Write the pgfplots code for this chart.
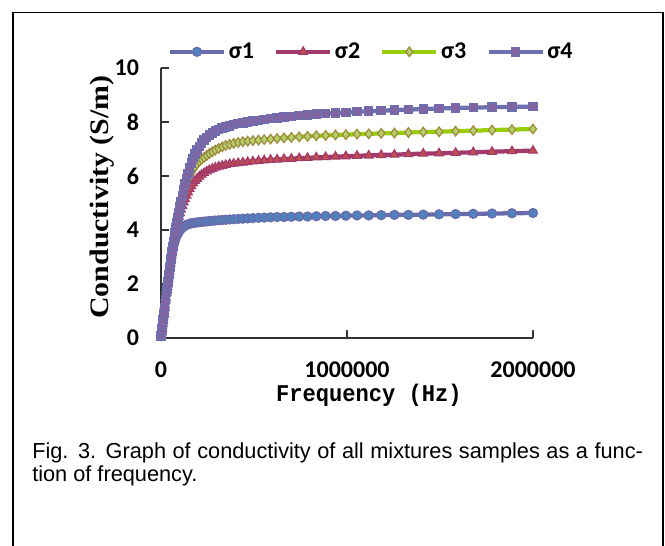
\documentclass[border=0pt]{standalone}
\usepackage{pgfplots}
\pgfplotsset{compat=1.18}
\usepackage{pgfplotstable}
\usepackage{fontspec}
\setmainfont{Liberation Sans}
\newfontfamily\calfont{Carlito}
\newfontfamily\serfont{Liberation Serif}[FakeStretch=1.12]
\newfontfamily\xlabfont{Liberation Mono}[FakeStretch=0.92]

\definecolor{lineA}{HTML}{6A6BAA}
\definecolor{markA}{HTML}{4F81BD}
\definecolor{lineB}{HTML}{A23A6B}
\definecolor{markB}{HTML}{C0504D}
\definecolor{lineC}{HTML}{9ACD0A}
\definecolor{markC}{HTML}{9C8A3E}
\definecolor{fillC}{HTML}{B5CF6A}
\definecolor{lineD}{HTML}{6E6FAE}
\definecolor{markD}{HTML}{8064A2}

% frequency (Hz) and conductivity (S/m) of the four mixtures
\pgfplotstableread{
f       s1   s2   s3   s4
1000    0.08 0.08 0.08 0.08
2000    0.13 0.13 0.13 0.13
4000    0.24 0.24 0.24 0.24
6000    0.35 0.35 0.35 0.35
9000    0.52 0.52 0.52 0.52
12000   0.68 0.68 0.68 0.68
16000   0.90 0.90 0.90 0.90
20000   1.12 1.12 1.12 1.12
25000   1.40 1.40 1.40 1.40
30000   1.68 1.68 1.68 1.68
32000   1.79 1.79 1.79 1.79
34000   1.90 1.90 1.90 1.90
36000   2.00 2.00 2.00 2.00
38000   2.10 2.10 2.10 2.10
40000   2.20 2.20 2.20 2.20
43000   2.36 2.36 2.36 2.36
45000   2.46 2.46 2.46 2.46
48000   2.62 2.62 2.62 2.62
51000   2.77 2.77 2.77 2.77
54000   2.92 2.92 2.92 2.92
57000   3.06 3.06 3.06 3.06
60000   3.20 3.20 3.20 3.20
64000   3.33 3.38 3.38 3.38
68000   3.45 3.56 3.56 3.56
72000   3.55 3.73 3.73 3.73
76000   3.64 3.90 3.90 3.90
81000   3.73 4.10 4.10 4.10
86000   3.81 4.25 4.28 4.28
91000   3.88 4.38 4.46 4.46
96000   3.94 4.50 4.64 4.64
102000  4.00 4.63 4.85 4.85
108000  4.05 4.76 5.05 5.05
115000  4.09 4.90 5.27 5.28
122000  4.13 5.03 5.40 5.50
129000  4.16 5.15 5.55 5.70
137000  4.19 5.28 5.72 5.90
145000  4.21 5.40 5.87 6.10
154000  4.23 5.52 6.00 6.30
163000  4.25 5.63 6.12 6.48
173000  4.26 5.73 6.24 6.65
183000  4.27 5.82 6.35 6.82
194000  4.28 5.90 6.45 6.96
206000  4.29 5.98 6.54 7.10
219000  4.30 6.05 6.62 7.22
232000  4.31 6.11 6.69 7.33
246000  4.32 6.17 6.76 7.43
260000  4.33 6.22 6.83 7.51
276000  4.34 6.27 6.90 7.59
292000  4.35 6.31 6.96 7.66
310000  4.36 6.35 7.02 7.72
329000  4.37 6.38 7.08 7.77
348000  4.38 6.41 7.13 7.82
369000  4.39 6.44 7.17 7.86
391000  4.40 6.46 7.21 7.90
415000  4.41 6.48 7.24 7.94
440000  4.42 6.50 7.27 7.97
466000  4.43 6.52 7.29 8.00
494000  4.44 6.54 7.31 8.03
524000  4.45 6.56 7.33 8.06
555000  4.46 6.58 7.35 8.09
589000  4.47 6.60 7.37 8.12
624000  4.48 6.61 7.39 8.15
661000  4.48 6.63 7.41 8.18
701000  4.49 6.64 7.43 8.21
743000  4.50 6.66 7.45 8.24
788000  4.50 6.67 7.47 8.26
835000  4.51 6.69 7.49 8.29
885000  4.52 6.70 7.50 8.31
938000  4.52 6.72 7.52 8.33
994000  4.53 6.73 7.53 8.35
1054000 4.54 6.75 7.55 8.38
1117000 4.54 6.76 7.56 8.40
1184000 4.55 6.78 7.58 8.42
1255000 4.56 6.79 7.59 8.44
1330000 4.56 6.81 7.61 8.46
1410000 4.57 6.83 7.63 8.48
1495000 4.58 6.84 7.64 8.50
1584000 4.59 6.86 7.66 8.52
1679000 4.60 6.88 7.68 8.53
1780000 4.61 6.90 7.70 8.55
1887000 4.62 6.92 7.72 8.56
2000000 4.63 6.94 7.74 8.57
}\conddata

\begin{document}
\begin{tikzpicture}
\begin{scope}[x=0.75pt,y=-0.75pt]
  \path[use as bounding box] (0,0) rectangle (665,546);
  \draw[line width=1.4pt] (12.7,700) -- (12.7,12.5) -- (663,12.5) -- (663,700);
  \node[anchor=base west, inner sep=0, font=\fontsize{16.3}{20}\selectfont] at (32,458.3)
    {\makebox[458pt][s]{Fig. 3. Graph of conductivity of all mixtures samples as a func-}};
  \node[anchor=base west, inner sep=0, font=\fontsize{16.3}{20}\selectfont] at (32,481.7)
    {tion of frequency.};
\end{scope}
\begin{axis}[
    at={(120.75pt,-253.5pt)}, anchor=south west,
    scale only axis, width=279pt, height=202.5pt,
    xmin=0, xmax=2000000, ymin=0, ymax=10,
    axis x line*=bottom, axis y line*=left,
    axis line style={black!80, line width=0.8pt},
    tick align=inside, major tick length=6pt,
    tick style={black!80, line width=0.8pt},
    scaled x ticks=false,
    xtick={0,1000000,2000000}, xticklabels={0,1000000,2000000},
    ytick={0,2,4,6,8,10}, yticklabels={0,2,4,6,8,10},
    ticklabel style={font=\calfont\bfseries\fontsize{18}{20}\selectfont},
    xticklabel style={yshift=-14pt},
    yticklabel style={xshift=-13pt},
    xlabel={Frequency (Hz)}, ylabel={Conductivity (S/m)},
    xlabel style={font=\xlabfont\bfseries\fontsize{18}{20}\selectfont,
      at={(axis description cs:0.559,-0.211)}, anchor=center},
    ylabel style={font=\serfont\bfseries\fontsize{20}{22}\selectfont,
      at={(axis description cs:-0.1586,0.522)}, anchor=center},
    legend columns=4,
    legend style={at={(axis description cs:0.566,1.06)}, anchor=center,
      draw=none, fill=none, font=\calfont\bfseries\fontsize{18}{20}\selectfont,
      /tikz/every even column/.append style={column sep=13pt},
      nodes={inner sep=2pt}},
    legend image code/.code={\draw[mark repeat=2,mark phase=2,#1]
      plot coordinates {(0pt,0pt) (20.25pt,0pt) (40.5pt,0pt)};},
    clip=false,
  ]
  \addplot[lineA, line width=3.2pt, mark=*, mark size=3.4pt,
    mark options={fill=markA, draw=lineA, line width=0.9pt}] table[x=f, y=s1] {\conddata};
  \addlegendentry{σ1}
  \addplot[lineB, line width=3.2pt, mark=triangle*, mark size=3.7pt,
    mark options={fill=markB, draw=lineB, line width=0.9pt}] table[x=f, y=s2] {\conddata};
  \addlegendentry{σ2}
  \addplot[lineC, line width=3.2pt, mark=diamond*, mark size=3.6pt,
    mark options={fill=fillC, draw=markC, line width=0.9pt}] table[x=f, y=s3] {\conddata};
  \addlegendentry{σ3}
  \addplot[lineD, line width=3.2pt, mark=square*, mark size=3.1pt,
    mark options={fill=markD, draw=lineD, line width=0.9pt}] table[x=f, y=s4] {\conddata};
  \addlegendentry{σ4}
\end{axis}
\end{tikzpicture}
\end{document}
